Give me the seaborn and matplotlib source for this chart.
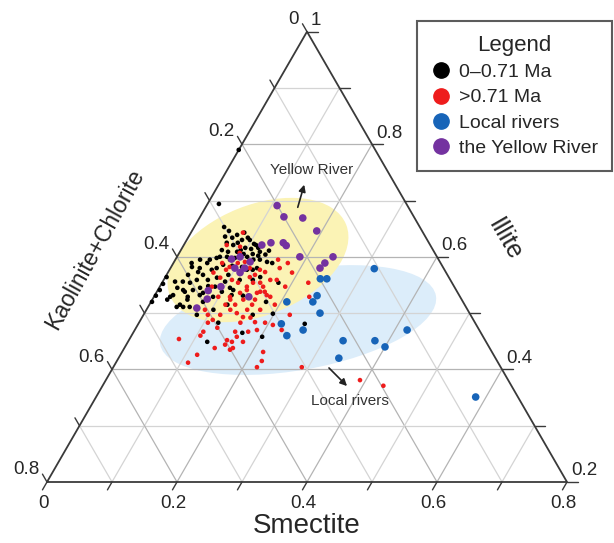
import numpy as np
import pandas as pd
import matplotlib
matplotlib.use("Agg")
import matplotlib.pyplot as plt
import seaborn as sns
from matplotlib.patches import Ellipse
from matplotlib.lines import Line2D

# clay mineral data in percent (smectite, illite); kaolinite+chlorite = 100 - both
young_smectite = [0.0, 1.75, 4.6, 5.6, 7.3, 8.2, 9.2, 6.4, 7.6, 8.1, 6.3, 7.4, 9.7, 6.6, 8.4, 10.8,
                  2.8, 3.8, 5.2, 6.5, 4.6, 5.6, 3.3, 3.1, 4.3, 5.1, 6.8, 8.0, 9.6, 2.8, 3.9, 5.4,
                  6.3, 8.5, 10.0, 10.9, 2.8, 5.2, 6.9, 0.2, 0.25, 0.3, 0.2, 0.15, 9.7, 10.7, 11.7,
                  11.4, 12.3, 11.7, 13.0, 13.6, 14.3, 15.2, 12.8, 17.9, 4.7, 5.4, 8.0, 9.1, 12.0,
                  11.8, 10.3, 8.2, 12.2, 16.8, 12.2, 13.6, 17.7, 19.8, 20.2, 25.6, 16.8, 2.5, 4.4,
                  5.4, 6.4, 11.1, 5.7, 6.8, 8.5, 9.2, 10.7, 8.8, 10.0, 12.4, 12.0, 7.7, 6.2, 5.3,
                  3.2, 4.5, 7.1, 7.8, 9.3, 10.9, 13.3, 14.6, 7.2, 7.4, 11.6, 13.7, 11.7, 9.5, 1.9,
                  2.3, 4.3, 11.9, 13.4, 9.0]
young_illite = [79.0, 69.4, 65.3, 63.6, 63.9, 64.3, 63.4, 62.5, 62.1, 62.5, 61.2, 60.9, 61.6, 60.0,
                59.5, 60.0, 58.9, 59.5, 58.9, 57.7, 57.3, 56.8, 56.8, 55.6, 55.4, 55.9, 55.9, 56.3,
                55.6, 54.5, 54.1, 54.1, 54.5, 54.7, 53.8, 54.5, 53.2, 52.9, 53.2, 56.4, 55.2, 54.1,
                53.1, 52.0, 63.0, 62.3, 61.6, 60.5, 60.9, 59.1, 59.5, 61.1, 59.1, 58.9, 57.7, 55.4,
                51.5, 52.4, 52.0, 52.9, 51.5, 53.2, 50.6, 49.7, 48.3, 46.5, 44.9, 53.1, 52.0, 49.9,
                45.8, 48.1, 49.7, 52.9, 51.1, 51.1, 51.1, 62.1, 64.6, 63.4, 63.0, 61.2, 61.4, 60.9,
                60.5, 60.2, 59.5, 60.0, 59.8, 59.5, 58.2, 58.0, 58.0, 58.6, 58.4, 58.2, 58.0, 56.4,
                53.6, 54.8, 54.1, 55.9, 55.9, 56.8, 55.6, 52.4, 53.8, 57.7, 60.4, 59.8]

old_smectite = [6.6, 8.8, 7.5, 9.0, 9.9, 7.0, 8.5, 10.5, 11.7, 8.0, 9.9, 11.7, 12.9, 13.4, 12.2, 8.0,
                9.3, 15.8, 17.6, 16.8, 19.1, 13.0, 13.9, 14.0, 15.9, 13.7, 15.5, 22.5, 16.6, 17.9,
                9.9, 11.1, 10.6, 12.5, 10.7, 10.6, 15.6, 16.3, 16.0, 15.1, 15.2, 13.9, 16.4, 11.8,
                11.1, 7.6, 15.6, 15.5, 15.5, 12.9, 14.2, 13.2, 14.0, 12.0, 15.8, 17.5, 17.8, 19.4,
                20.8, 17.6, 18.8, 17.7, 21.7, 16.7, 22.3, 22.1, 17.2, 15.9, 23.9, 29.0, 22.6, 39.1,
                43.2, 17.4, 15.1, 8.7, 10.9, 13.6, 16.4, 19.3, 11.7, 11.8, 15.8, 19.3, 22.5, 14.9,
                9.0, 16.7]
old_illite = [62.1, 61.8, 58.9, 58.2, 58.9, 57.2, 56.3, 55.9, 55.4, 54.7, 52.9, 52.9, 53.6, 54.7,
              58.0, 64.3, 60.7, 59.5, 58.9, 58.0, 57.2, 56.4, 57.7, 55.4, 54.7, 54.1, 53.6, 55.4,
              53.8, 52.9, 49.7, 48.8, 48.3, 47.4, 46.7, 46.0, 46.7, 45.8, 44.9, 45.2, 44.4, 43.8,
              43.5, 42.6, 41.2, 45.4, 48.3, 49.3, 50.6, 50.6, 50.0, 51.5, 52.4, 52.4, 51.5, 50.6,
              48.4, 48.3, 47.9, 46.7, 47.0, 44.9, 43.1, 43.8, 41.5, 40.4, 53.2, 53.8, 52.9, 40.4,
              47.0, 38.1, 37.1, 55.9, 55.4, 57.7, 59.1, 56.8, 55.9, 54.7, 51.5, 49.7, 52.4, 51.5,
              49.7, 57.3, 50.6, 49.2]

local_smectite = [31.4, 24.0, 25.0, 25.0, 24.9, 20.9, 27.0, 22.0, 25.9, 23.9, 33.0, 37.9, 40.0,
                  41.9, 33.9, 58.4]
local_illite = [57.9, 56.1, 56.1, 53.1, 52.0, 52.0, 50.0, 48.1, 47.0, 46.0, 45.1, 45.1, 44.0,
                47.0, 42.0, 35.1]

yellow_smectite = [10.85, 12.9, 15.9, 19.2, 12.0, 13.2, 15.1, 15.8, 18.9, 23.3, 24.0, 23.0, 8.6,
                   9.7, 9.9, 11.1, 9.4, 7.8, 8.4, 7.6, 14.6, 11.4, 11.7]
yellow_illite = [69.1, 67.1, 66.9, 64.6, 62.1, 62.5, 62.5, 62.0, 60.0, 58.9, 60.0, 58.0, 59.6,
                 60.0, 58.0, 57.2, 54.7, 54.0, 52.5, 50.9, 52.9, 58.0, 59.1]

group_names = ["0\u20130.71 Ma", ">0.71 Ma", "Local rivers", "the Yellow River"]
group_colors = ["#000000", "#ee1c1c", "#1764b8", "#7432a0"]

H = np.sqrt(3) / 2


def to_xy(sm, il):
    # ternary (percent) -> cartesian, illite axis runs 0.2 .. 1
    sm = np.asarray(sm) / 100.0
    il = np.asarray(il) / 100.0
    return sm + 0.5 * (il - 0.2), (il - 0.2) * H


def tern_line(ax, p1, p2, **kw):
    x1, y1 = to_xy(*p1)
    x2, y2 = to_xy(*p2)
    ax.plot([x1, x2], [y1, y2], **kw)


frames = []
for name, sm, il in zip(group_names,
                        [young_smectite, old_smectite, local_smectite, yellow_smectite],
                        [young_illite, old_illite, local_illite, yellow_illite]):
    x, y = to_xy(sm, il)
    frames.append(pd.DataFrame({"x": x, "y": y, "group": name}))
df = pd.concat(frames, ignore_index=True)

sns.set_style("white")
plt.rcParams["font.family"] = ["Liberation Sans", "DejaVu Sans"]

fig = plt.figure(figsize=(6.14, 5.43), dpi=100)
ax = fig.add_axes([0, 0, 1, 1])
ax.set_xlim(-47 / 650, 567 / 650)
ax.set_ylim(-61 / 650, 482 / 650)
ax.axis("off")

# source areas
ax.add_patch(Ellipse((0.3862, 0.2492), 0.4308, 0.1538, angle=10, facecolor="#dcedfa",
                     edgecolor="none", zorder=0))
ax.add_patch(Ellipse((0.3246, 0.3415), 0.2923, 0.1692, angle=22, facecolor="#fbf3b5",
                     edgecolor="none", zorder=0))

# grid
for k in range(1, 8):
    v = k * 10
    col = "#b4b4b4" if k % 2 == 0 else "#d4d4d4"
    tern_line(ax, (0, 20 + v), (80 - v, 20 + v), color=col, lw=0.9, zorder=1)
    tern_line(ax, (v, 20), (v, 100 - v), color=col, lw=0.9, zorder=1)
    tern_line(ax, (80 - v, 20), (0, 100 - v), color=col, lw=0.9, zorder=1)

# frame
ax.plot([0, 0.8, 0.4, 0], [0, 0, 0.8 * H, 0], color="#3a3a3a", lw=1.3, zorder=2)

tl = 0.014
tick_font = 13.5
for k in range(0, 9):
    v = k * 10
    # smectite (bottom)
    x, y = to_xy(v, 20)
    ax.plot([x, x - 0.5 * tl], [y, y - H * tl], color="#3a3a3a", lw=1, zorder=2)
    # illite (right)
    x, y = to_xy(80 - v, 20 + v)
    ax.plot([x, x + tl * 1.2], [y, y], color="#3a3a3a", lw=1, zorder=2)
    # kaolinite+chlorite (left)
    x, y = to_xy(0, 100 - v)
    ax.plot([x, x - 0.5 * tl], [y, y + H * tl], color="#3a3a3a", lw=1, zorder=2)

for k in range(0, 5):
    v = k * 20
    lab = "0" if v == 0 else f"{v / 100:.1f}"
    x, y = to_xy(v, 20)
    ax.text(x - 0.005, y - 0.02, lab, ha="center", va="top", fontsize=tick_font)
    il = 20 + v
    lab = "1" if il == 100 else f"{il / 100:.1f}"
    x, y = to_xy(80 - v, il)
    ax.text(x + 0.006, y + 0.004, lab, ha="left", va="bottom", fontsize=tick_font)
    kc = 80 - v
    lab = "0" if kc == 0 else f"{kc / 100:.1f}"
    x, y = to_xy(0, 100 - kc)
    ax.text(x - 0.012, y + 0.006, lab, ha="right", va="bottom", fontsize=tick_font)

ax.text(0.40, -0.068, "Smectite", ha="center", va="center", fontsize=20)
ax.text(0.0738, 0.3585, "Kaolinite+Chlorite", ha="center", va="center", rotation=61,
        fontsize=16.5)
ax.text(0.7046, 0.3723, "Illite", ha="center", va="center", rotation=-60, fontsize=18)

# samples
sizes = [11, 11, 30, 30]
for name, col, s in zip(group_names, group_colors, sizes):
    sns.scatterplot(data=df[df["group"] == name], x="x", y="y", color=col, s=s,
                    edgecolor="none", linewidth=0, ax=ax, zorder=3, legend=False)

ax.annotate("", xy=(0.3969, 0.4615), xytext=(0.3846, 0.4185),
            arrowprops=dict(arrowstyle="-|>", color="#222222", lw=1.2, mutation_scale=10))
ax.text(0.4077, 0.48, "Yellow River", ha="center", va="center", fontsize=11, color="#333333")
ax.annotate("", xy=(0.4646, 0.1446), xytext=(0.4308, 0.1785),
            arrowprops=dict(arrowstyle="-|>", color="#222222", lw=1.2, mutation_scale=10))
ax.text(0.4662, 0.1246, "Local rivers", ha="center", va="center", fontsize=11, color="#333333")

handles = [Line2D([], [], marker="o", linestyle="none", markersize=11, color=c) for c in group_colors]
leg = ax.legend(handles, group_names, title="Legend", loc="upper right",
                bbox_to_anchor=(612 / 614, 1 - 21 / 543), bbox_transform=fig.transFigure,
                fontsize=14, title_fontsize=16, frameon=True, fancybox=False,
                edgecolor="#333333", borderpad=0.7, labelspacing=0.4, handletextpad=0.45,
                handlelength=1.0, borderaxespad=0)
leg.get_frame().set_linewidth(1.5)

fig.savefig("out.png", dpi=100)
